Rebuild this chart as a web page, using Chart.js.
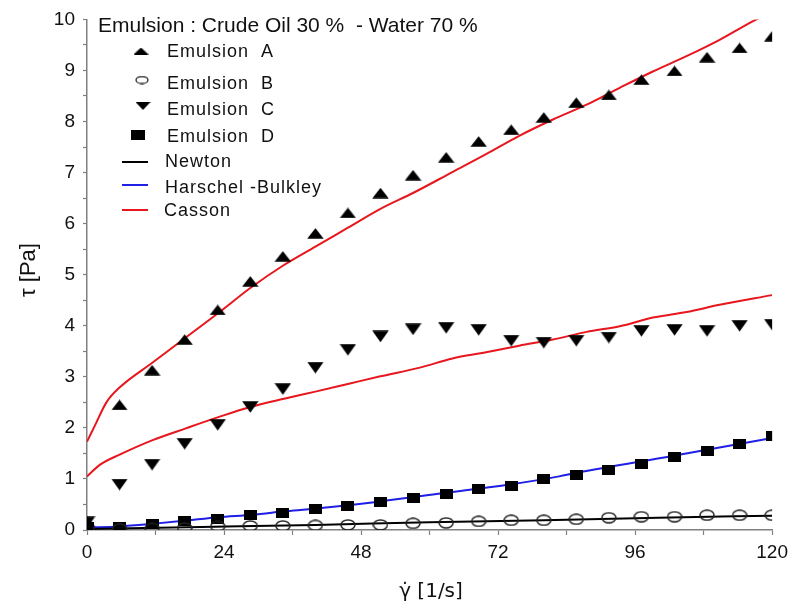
<!DOCTYPE html>
<html><head><meta charset="utf-8">
<script src="https://cdn.jsdelivr.net/npm/chart.js@4"></script>
<style>html,body{margin:0;padding:0;background:#fff}#wrap{width:794px;height:608px;position:relative}</style>
</head><body><div id="wrap"><canvas id="c" width="794" height="608"></canvas></div>
<script>
// ---- data ----
const shearRates = [0, 5.7, 11.4, 17.1, 22.9, 28.6, 34.3, 40, 45.7, 51.4, 57.1, 62.9, 68.6, 74.3, 80, 85.7, 91.4, 97.1, 102.9, 108.6, 114.3, 120];
const emulsionA = [0.17, 2.45, 3.13, 3.73, 4.31, 4.87, 5.36, 5.81, 6.21, 6.6, 6.95, 7.3, 7.61, 7.84, 8.08, 8.37, 8.52, 8.82, 8.99, 9.26, 9.44, 9.67];
const emulsionB = [0.02, 0.02, 0.03, 0.04, 0.07, 0.08, 0.08, 0.09, 0.1, 0.1, 0.13, 0.14, 0.17, 0.19, 0.19, 0.21, 0.24, 0.26, 0.26, 0.29, 0.29, 0.29];
const emulsionC = [0.15, 0.89, 1.28, 1.69, 2.06, 2.41, 2.76, 3.18, 3.53, 3.79, 3.93, 3.96, 3.92, 3.71, 3.67, 3.71, 3.77, 3.9, 3.92, 3.9, 4.0, 4.02];
const emulsionD = [0.05, 0.06, 0.12, 0.17, 0.21, 0.29, 0.33, 0.41, 0.47, 0.54, 0.62, 0.70, 0.80, 0.87, 0.99, 1.07, 1.18, 1.30, 1.42, 1.55, 1.69, 1.84];

const newtonX = [0, 20, 40, 60, 80, 100, 120];
const newtonY = [0.02, 0.06, 0.10, 0.15, 0.19, 0.24, 0.28];

const hbX = [0, 5.7, 11.4, 17, 23, 29, 35, 41, 50.7, 62.3, 74, 82.7, 85.7, 102.5, 120];
const hbY = [0.05, 0.07, 0.12, 0.18, 0.25, 0.30, 0.37, 0.43, 0.55, 0.72, 0.89, 1.05, 1.12, 1.45, 1.80];

const cassonAX = [0, 1.4, 3.4, 5.8, 11.5, 17.3, 23, 28.6, 34.5, 40, 45.7, 51.4, 57.1, 64, 69.9, 75.7, 81.6, 87.5, 93.3, 99.1, 105, 110.8, 116.9, 120];
const cassonAY = [1.73, 2.05, 2.5, 2.8, 3.28, 3.77, 4.25, 4.74, 5.19, 5.55, 5.92, 6.29, 6.6, 7.01, 7.36, 7.72, 8.04, 8.33, 8.66, 8.98, 9.28, 9.6, 9.98, 10.15];

const cassonCX = [0, 2.3, 5.8, 11.5, 17.3, 23, 28.6, 34.5, 40, 45.7, 51.4, 58.3, 64, 69.9, 75.7, 81.6, 87.5, 93.3, 99.1, 105, 110.8, 120];
const cassonCY = [1.05, 1.28, 1.48, 1.76, 1.99, 2.21, 2.41, 2.57, 2.71, 2.86, 3.01, 3.18, 3.36, 3.48, 3.61, 3.73, 3.88, 3.99, 4.16, 4.27, 4.41, 4.60];

const xTicksMajor = [0, 24, 48, 72, 96, 120];
const chartTitle = 'Emulsion : Crude Oil 30 %  - Water 70 %';
const legendNames = ['Emulsion  A', 'Emulsion  B', 'Emulsion  C', 'Emulsion  D', 'Newton', 'Harschel -Bulkley', 'Casson'];

// ---- helpers ----
const pts = (xs, ys) => xs.map((x, i) => ({x: x, y: ys[i]}));
function marker(w, h, draw) {
  const c = document.createElement('canvas'); c.width = w; c.height = h;
  const g = c.getContext('2d'); draw(g, w, h); return c;
}
const upTri = marker(17, 11, (g, w, h) => { g.fillStyle = '#000'; g.beginPath(); g.moveTo(w/2, 0.3); g.lineTo(w - 0.3, h - 0.3); g.lineTo(0.3, h - 0.3); g.closePath(); g.fill(); });
const downTri = marker(17, 12, (g, w, h) => { g.fillStyle = '#000'; g.beginPath(); g.moveTo(0.3, 0.3); g.lineTo(w - 0.3, 0.3); g.lineTo(w/2, h - 0.3); g.closePath(); g.fill(); });
const ring = marker(16, 12, (g, w, h) => { g.strokeStyle = '#222'; g.lineWidth = 1.5; g.beginPath(); g.ellipse(w/2, h/2, w/2 - 1, h/2 - 1, 0, 0, Math.PI*2); g.stroke(); });
const square = marker(13, 10, (g, w, h) => { g.fillStyle = '#000'; g.fillRect(0, 0, w, h); });
const legUp = marker(15, 7, (g, w, h) => { g.fillStyle = '#000'; g.beginPath(); g.moveTo(w/2, 0); g.lineTo(w, h); g.lineTo(0, h); g.closePath(); g.fill(); });
const legDown = marker(15, 8, (g, w, h) => { g.fillStyle = '#000'; g.beginPath(); g.moveTo(0, 0); g.lineTo(w, 0); g.lineTo(w/2, h); g.closePath(); g.fill(); });
const legRing = marker(14, 9, (g, w, h) => { g.strokeStyle = '#222'; g.lineWidth = 1.3; g.beginPath(); g.ellipse(w/2, h/2, w/2 - 1, h/2 - 1, 0, 0, Math.PI*2); g.stroke(); });
const legSquare = marker(14, 10, (g, w, h) => { g.fillStyle = '#000'; g.fillRect(0, 0, w, h); });

const RED = '#e8161d', BLUE = '#1f1fe6', GRAY = '#808080';
const FONT = '"Liberation Sans", Arial, sans-serif';

const overlay = {
  id: 'overlay',
  afterDraw(chart) {
    const ctx = chart.ctx;
    ctx.save();
    ctx.fillStyle = '#111';
    ctx.textBaseline = 'alphabetic';
    // title
    ctx.font = '21px ' + FONT;
    ctx.textAlign = 'left';
    ctx.fillText(chartTitle, 98, 32);
    // legend entries
    ctx.font = '18px ' + FONT;
    ctx.letterSpacing = '1px';
    const rows = [57, 89, 115, 142, 167, 193, 216];
    const tx = [167, 167, 167, 167, 165, 165, 164];
    legendNames.forEach((n, i) => ctx.fillText(n, tx[i], rows[i]));
    ctx.letterSpacing = '0px';
    const imgs = [[legUp, 141, 51], [legRing, 142, 80], [legDown, 143, 106], [legSquare, 138, 135]];
    imgs.forEach(([im, cx, cy]) => ctx.drawImage(im, cx - im.width/2, cy - im.height/2));
    const lines = [['#000', 162], [BLUE, 185], [RED, 210]];
    ctx.lineWidth = 2;
    lines.forEach(([c, y]) => { ctx.strokeStyle = c; ctx.beginPath(); ctx.moveTo(122, y); ctx.lineTo(148, y); ctx.stroke(); });
    // axis titles
    ctx.font = '20px "DejaVu Sans", sans-serif';
    ctx.textAlign = 'center';
    ctx.fillText('\u03B3\u0307 [1/s]', 431, 597);
    ctx.font = '22px ' + FONT;
    ctx.translate(35, 270);
    ctx.rotate(-Math.PI/2);
    ctx.fillText('\u03C4 [Pa]', 0, 0);
    ctx.restore();
  }
};

const lineDs = (label, data, color) => ({label, data, showLine: true, borderColor: color, borderWidth: 2, pointRadius: 0, fill: false, tension: 0, cubicInterpolationMode: 'monotone', order: 2});
const pointDs = (label, data, style) => ({label, data, showLine: false, pointStyle: style, pointRadius: 6, pointHoverRadius: 6, order: 1});

new Chart(document.getElementById('c'), {
  type: 'scatter',
  data: {
    datasets: [
      pointDs('Emulsion A', pts(shearRates, emulsionA), upTri),
      pointDs('Emulsion B', pts(shearRates, emulsionB), ring),
      pointDs('Emulsion C', pts(shearRates, emulsionC), downTri),
      pointDs('Emulsion D', pts(shearRates, emulsionD), square),
      lineDs('Newton', pts(newtonX, newtonY), '#000'),
      lineDs('Harschel-Bulkley', pts(hbX, hbY), BLUE),
      lineDs('Casson A', pts(cassonAX, cassonAY), RED),
      lineDs('Casson C', pts(cassonCX, cassonCY), RED)
    ]
  },
  options: {
    responsive: false,
    animation: false,
    events: [],
    layout: {padding: {left: 0, top: 14, right: 21, bottom: 0}},
    plugins: {legend: {display: false}, tooltip: {enabled: false}},
    scales: {
      x: {
        type: 'linear', min: 0, max: 120,
        afterFit: s => { s.height = 78; },
        ticks: {stepSize: 12, autoSkip: false, maxRotation: 0, padding: 6, color: '#111', font: {family: FONT, size: 19},
          callback: v => xTicksMajor.includes(v) ? String(v) : ''},
        grid: {display: true, drawOnChartArea: false, drawTicks: true, tickLength: 5, color: GRAY, tickColor: GRAY, tickWidth: 1.2},
        border: {display: true, color: GRAY, width: 1.5}
      },
      y: {
        type: 'linear', min: 0, max: 10,
        afterFit: s => { s.width = 87; },
        ticks: {stepSize: 0.5, autoSkip: false, padding: 8, color: '#111', font: {family: FONT, size: 19},
          callback: v => Number.isInteger(v) ? String(v) : ''},
        grid: {display: true, drawOnChartArea: false, drawTicks: true, tickLength: 4, color: GRAY, tickColor: GRAY, tickWidth: 1.2},
        border: {display: true, color: GRAY, width: 1.5}
      }
    }
  },
  plugins: [overlay]
});
</script>
</body></html>
